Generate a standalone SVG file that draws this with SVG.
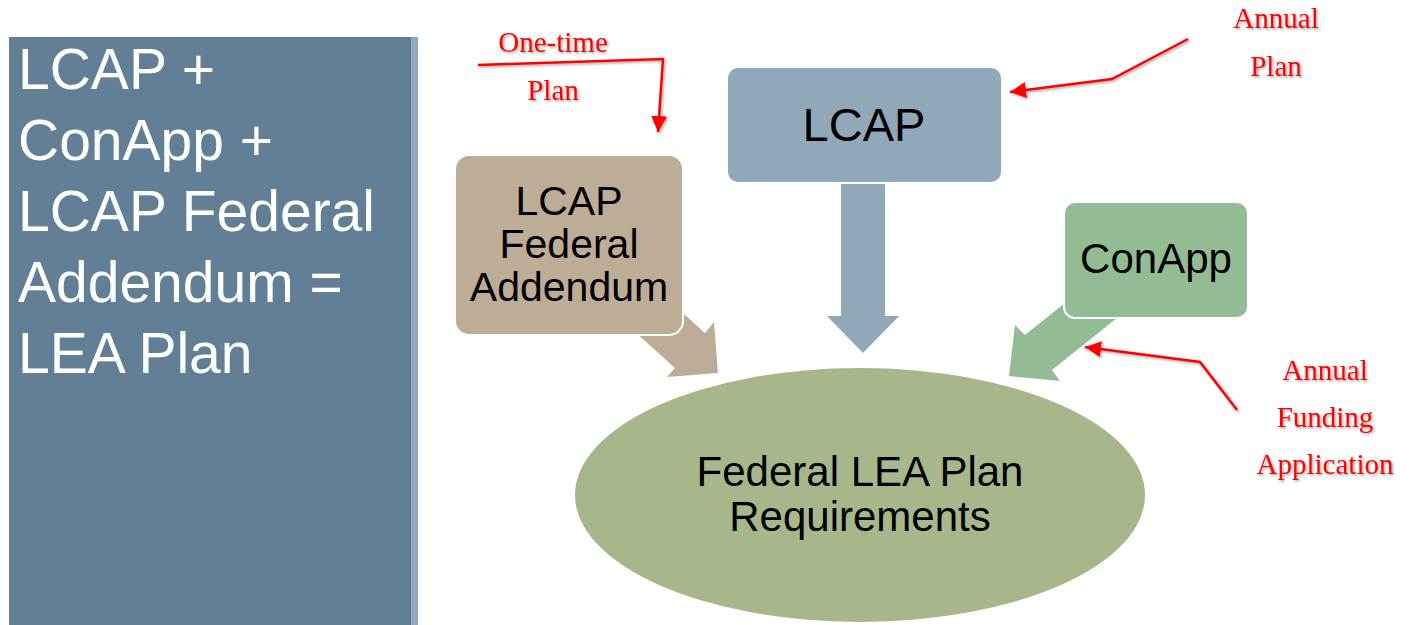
<svg xmlns="http://www.w3.org/2000/svg" width="1411" height="625" viewBox="0 0 1411 625">
<defs>
<style>
.panel-text{font-family:"Liberation Sans",Arial,sans-serif;font-size:57px;fill:#ffffff}
.node-text{font-family:"Liberation Sans",Arial,sans-serif;fill:#000000;text-anchor:middle}
.note{font-family:"Liberation Serif","Times New Roman",serif;font-size:29px;fill:#ff0000;text-anchor:middle;filter:url(#shadow)}
.red-line{fill:none;stroke:#ff0000;stroke-width:2.5;stroke-linejoin:miter;marker-end:url(#redhead);filter:url(#shadow)}
.box{stroke:#ffffff;stroke-width:2}
</style>
<filter id="shadow" x="-20%" y="-20%" width="140%" height="140%">
<feDropShadow dx="1.5" dy="1.5" stdDeviation="1.2" flood-color="#000000" flood-opacity="0.35"/>
</filter>
<marker id="redhead" markerUnits="userSpaceOnUse" markerWidth="18" markerHeight="16" refX="16" refY="8" orient="auto">
<path d="M0,0 L16,8 L0,16 z" fill="#ff0000"/>
</marker>
</defs>
<rect width="1411" height="625" fill="#ffffff"/>
<g id="panel">
<rect x="9" y="37" width="402" height="588" fill="#627f95"/>
<rect x="411" y="37" width="7" height="588" fill="#93a8b8"/>
<text class="panel-text" x="18" y="89">LCAP +</text>
<text class="panel-text" x="18" y="160">ConApp +</text>
<text class="panel-text" x="18" y="231">LCAP Federal</text>
<text class="panel-text" x="18" y="302">Addendum =</text>
<text class="panel-text" x="18" y="373">LEA Plan</text>
</g>
<g id="connectors">
<polygon points="841,180 885,180 885,316 899,316 863,353 827,316 841,316" fill="#91a8b8"/>
<polygon points="645,279 705,333 714,322 718,373 667,377 675,368 615,314" fill="#bdad97"/>
<polygon points="1090,283 1025,335 1015,325 1009,376 1060,381 1052,370 1132,306" fill="#93bc95"/>
</g>
<g id="node-ellipse">
<ellipse cx="860" cy="495" rx="285" ry="127" fill="#a7b78b"/>
<text class="node-text" x="860" y="486" font-size="42">Federal LEA Plan</text>
<text class="node-text" x="860" y="531" font-size="42">Requirements</text>
</g>
<g id="node-lcap">
<rect class="box" x="727" y="67" width="275" height="116" rx="11" fill="#91a8b8"/>
<text class="node-text" x="864" y="141" font-size="47">LCAP</text>
</g>
<g id="node-addendum">
<rect class="box" x="455" y="155" width="228" height="180" rx="14" fill="#bdad97"/>
<text class="node-text" x="569" y="215" font-size="41">LCAP</text>
<text class="node-text" x="569" y="258" font-size="41">Federal</text>
<text class="node-text" x="569" y="301" font-size="41">Addendum</text>
</g>
<g id="node-conapp">
<rect class="box" x="1064" y="202" width="184" height="116" rx="11" fill="#93bc95"/>
<text class="node-text" x="1156" y="273" font-size="42">ConApp</text>
</g>
<g id="annotations">
<polyline class="red-line" points="478,65 663,59 658,132"/>
<text class="note" x="553" y="52">One-time</text>
<text class="note" x="553" y="100">Plan</text>
<polyline class="red-line" points="1188,39 1112,79 1010,92"/>
<text class="note" x="1276" y="28">Annual</text>
<text class="note" x="1276" y="76">Plan</text>
<polyline class="red-line" points="1237,410 1200,362 1085,347"/>
<text class="note" x="1325" y="380">Annual</text>
<text class="note" x="1325" y="427">Funding</text>
<text class="note" x="1325" y="474">Application</text>
</g>
</svg>
